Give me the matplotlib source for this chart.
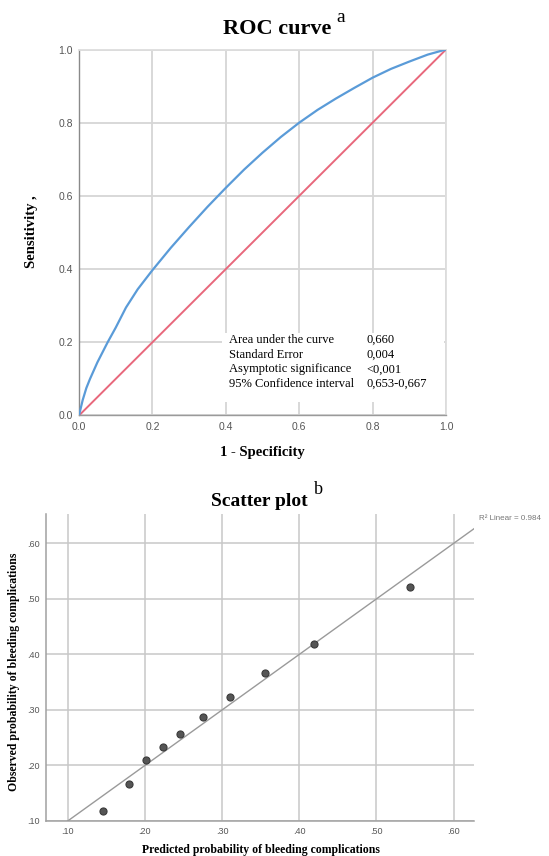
import matplotlib
matplotlib.use("Agg")
import matplotlib.pyplot as plt
from matplotlib.patches import Rectangle
import numpy as np

# ---------------- data ----------------
roc_fpr = [0.0, 0.01, 0.02, 0.03, 0.05, 0.078, 0.10, 0.128, 0.16, 0.20, 0.25, 0.30,
           0.35, 0.40, 0.45, 0.50, 0.55, 0.60, 0.65, 0.70, 0.75, 0.80, 0.85, 0.90,
           0.95, 1.0]
roc_tpr = [0.0, 0.042, 0.075, 0.10, 0.145, 0.20, 0.24, 0.295, 0.345, 0.397, 0.458, 0.515,
           0.57, 0.622, 0.672, 0.718, 0.761, 0.80, 0.835, 0.866, 0.895, 0.923, 0.947, 0.967,
           0.986, 1.0]
ref_line = [0.0, 1.0]
roc_ticks = [0.0, 0.2, 0.4, 0.6, 0.8, 1.0]
roc_stats_labels = ["Area under the curve", "Standard Error",
                    "Asymptotic significance", "95% Confidence interval"]
roc_stats_values = ["0,660", "0,004", "<0,001", "0,653-0,667"]

pred_prob = [0.146, 0.179, 0.202, 0.223, 0.246, 0.275, 0.310, 0.355, 0.419, 0.543]
obs_prob = [0.118, 0.167, 0.209, 0.233, 0.256, 0.287, 0.324, 0.367, 0.418, 0.522]
fit_slope = 1.0
fit_intercept = 0.0
r2_text = "R\u00b2 Linear = 0.984"
sc_ticks = [0.10, 0.20, 0.30, 0.40, 0.50, 0.60]
sc_ticklabels = [".10", ".20", ".30", ".40", ".50", ".60"]

SERIF = "Liberation Serif"
SANS = "Liberation Sans"
W, H = 549, 856

fig = plt.figure(figsize=(W / 100, H / 100), dpi=100)

def fx(px):
    return px / W

def fy(py):
    return (H - py) / H

# ---------------- ROC ----------------
ax1 = fig.add_axes([fx(79), fy(415.5), fx(446) - fx(79), fy(49.5) - fy(415.5)])
ax1.set_xlim(0, 1)
ax1.set_ylim(0, 1)
ax1.set_xticks(roc_ticks)
ax1.set_yticks(roc_ticks)
ax1.set_xticklabels([f"{t:.1f}" for t in roc_ticks], fontfamily=SANS, fontsize=7.5, color="#555555")
ax1.set_yticklabels([f"{t:.1f}" for t in roc_ticks], fontfamily=SANS, fontsize=7.5, color="#555555")
ax1.tick_params(length=0, pad=4.5)
ax1.grid(True, color="#d6d6d6", linewidth=1.3, zorder=0)
ax1.set_axisbelow(True)
for s in ["top", "right"]:
    ax1.spines[s].set_color("#dddddd")
    ax1.spines[s].set_linewidth(1.3)
ax1.spines["left"].set_color("#8a8a8a")
ax1.spines["bottom"].set_color("#9a9a9a")
ax1.spines["left"].set_linewidth(1.0)
ax1.spines["bottom"].set_linewidth(1.0)

ax1.plot(ref_line, ref_line, color="#e8687c", linewidth=1.4, zorder=3)
ax1.plot(roc_fpr, roc_tpr, color="#5a9bd8", linewidth=1.6, zorder=4)

ax1.add_patch(Rectangle((0.39, 0.037), 0.605, 0.188, facecolor="white",
                        edgecolor="none", zorder=2))
ys = [0.206, 0.166, 0.126, 0.086]
for lab, val, yy in zip(roc_stats_labels, roc_stats_values, ys):
    ax1.text(0.41, yy, lab, fontfamily=SERIF, fontsize=9, va="center", ha="left", zorder=5)
    ax1.text(0.784, yy, val, fontfamily=SERIF, fontsize=9, va="center", ha="left", zorder=5)

fig.text(fx(277), fy(29), "ROC curve", fontfamily=SERIF, fontsize=16, fontweight="bold",
         ha="center", va="center")
fig.text(fx(336), fy(17), "a", fontfamily=SERIF, fontsize=14, ha="left", va="center")
fig.text(fx(262), fy(452.7), "1 - Specificity", fontfamily=SERIF, fontsize=10.5,
         fontweight="bold", ha="center", va="center")
fig.text(fx(32), fy(232), "Sensitivity ,", fontfamily=SERIF, fontsize=10.5,
         fontweight="bold", ha="center", va="center", rotation=90)

# ---------------- Scatter ----------------
x0 = 0.1 - 22 / 772
x1 = 0.1 + 406.6 / 772
y1 = 0.6 + 29 / 555
ax2 = fig.add_axes([fx(45.7), fy(821), fx(474.3) - fx(45.7), fy(514.3) - fy(821)])
ax2.set_xlim(x0, x1)
ax2.set_ylim(0.10, y1)
ax2.set_xticks(sc_ticks)
ax2.set_yticks(sc_ticks)
ax2.set_xticklabels(sc_ticklabels, fontfamily=SANS, fontsize=6.5, color="#555555")
ax2.set_yticklabels(sc_ticklabels, fontfamily=SANS, fontsize=6.5, color="#555555")
ax2.tick_params(length=0, pad=4)
ax2.grid(True, color="#c8c8c8", linewidth=1.1, zorder=0)
ax2.set_axisbelow(True)
for s in ["top", "right"]:
    ax2.spines[s].set_visible(False)
for s in ["left", "bottom"]:
    ax2.spines[s].set_color("#a0a0a0")
    ax2.spines[s].set_linewidth(1.1)

xx = np.array([x0, x1])
ax2.plot(xx, fit_slope * xx + fit_intercept, color="#9a9a9a", linewidth=1.0, zorder=3)
ax2.scatter(pred_prob, obs_prob, s=26, color="#555555", edgecolors="#3a3a3a",
            linewidths=0.8, zorder=4)

fig.text(fx(479), fy(518), r2_text, fontfamily=SANS, fontsize=5.8, color="#777777",
         ha="left", va="center")
fig.text(fx(259.5), fy(502), "Scatter plot", fontfamily=SERIF, fontsize=14,
         fontweight="bold", ha="center", va="center")
fig.text(fx(314), fy(490), "b", fontfamily=SERIF, fontsize=13, ha="left", va="center")
fig.text(fx(261), fy(850.5), "Predicted probability of bleeding complications",
         fontfamily=SERIF, fontsize=8.5, fontweight="bold", ha="center", va="center")
fig.text(fx(14), fy(671.5), "Observed probability of bleeding complications",
         fontfamily=SERIF, fontsize=8.5, fontweight="bold", ha="center", va="center",
         rotation=90)

fig.savefig("out.png", dpi=100, facecolor="white")
